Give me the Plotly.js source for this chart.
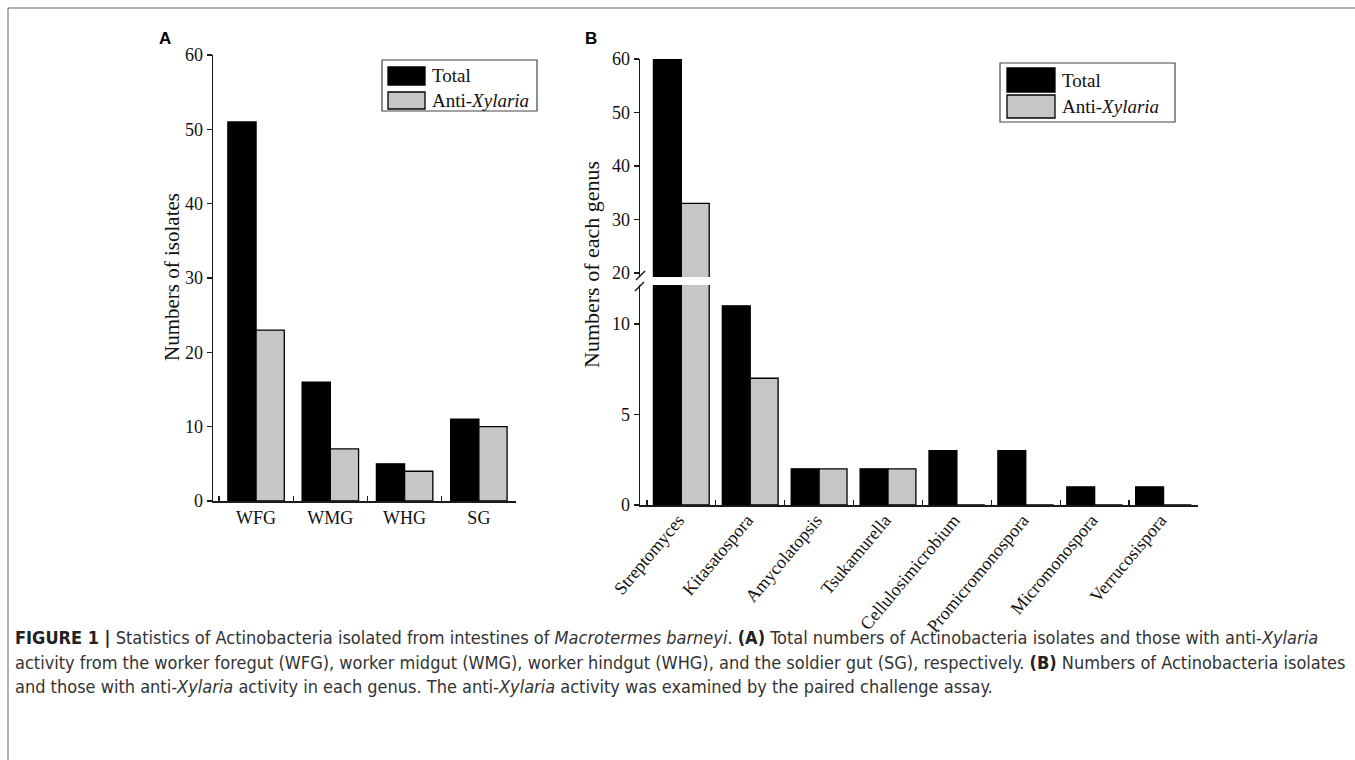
<!DOCTYPE html>
<html>
<head>
<meta charset="utf-8">
<script src="https://cdn.plot.ly/plotly-3.0.1.min.js"></script>
<style>
  html, body { margin: 0; padding: 0; background: #fff; width: 1355px; height: 760px; overflow: hidden; }
  #chart { position: absolute; left: 0; top: 0; width: 1355px; height: 760px; }
  #caption {
    position: absolute; left: 15px; top: 626px; width: 1335px;
    font-family: "Liberation Sans Narrow", "DejaVu Sans Condensed", "Liberation Sans", sans-serif;
    font-size: 18px; line-height: 24.5px; color: #333; white-space: nowrap;
  }
  #caption b { color: #222; }
</style>
</head>
<body>
<div id="chart"></div>
<div id="caption">
<b>FIGURE 1 |</b> Statistics of Actinobacteria isolated from intestines of <i>Macrotermes barneyi</i>. <b>(A)</b> Total numbers of Actinobacteria isolates and those with anti-<i>Xylaria</i><br>
activity from the worker foregut (WFG), worker midgut (WMG), worker hindgut (WHG), and the soldier gut (SG), respectively. <b>(B)</b> Numbers of Actinobacteria isolates<br>
and those with anti-<i>Xylaria</i> activity in each genus. The anti-<i>Xylaria</i> activity was examined by the paired challenge assay.
</div>
<script>
// ---- data ----
const gutCategories = ['WFG', 'WMG', 'WHG', 'SG'];
const gutTotal = [51, 16, 5, 11];
const gutAnti = [23, 7, 4, 10];

const genusCategories = ['Streptomyces', 'Kitasatospora', 'Amycolatopsis', 'Tsukamurella',
  'Cellulosimicrobium', 'Promicromonospora', 'Micromonospora', 'Verrucosispora'];
const genusTotal = [60, 11, 2, 2, 3, 3, 1, 1];
const genusAnti = [33, 7, 2, 2, 0, 0, 0, 0];

const seriesNames = ['Total', 'Anti-<i>Xylaria</i>'];
const gutTicks = [0, 10, 20, 30, 40, 50, 60];
const genusLowTicks = [0, 5, 10];
const genusHighTicks = [20, 30, 40, 50, 60];

// ---- layout helpers (pixel -> paper) ----
const W = 1355, H = 760;
const px = v => v / W;
const py = v => 1 - v / H;

const BLACK = '#000000', GRAY = '#c6c6c6', LINE = '#1a1a1a';
const serif = 'Liberation Serif, Times New Roman, serif';

const wA = 0.38, wB = 0.405;

function bars(x, y, name, color, xa, ya, w, off) {
  return {
    type: 'bar', x: x, y: y, name: name, xaxis: xa, yaxis: ya,
    width: w, offset: off, showlegend: false, hoverinfo: 'x+y',
    marker: { color: color, line: { color: BLACK, width: 1.3 } }
  };
}

const traces = [
  bars(gutCategories, gutTotal, seriesNames[0], BLACK, 'x', 'y', wA, -wA),
  bars(gutCategories, gutAnti, seriesNames[1], GRAY, 'x', 'y', wA, 0),
  bars(genusCategories, genusTotal, seriesNames[0], BLACK, 'x2', 'y2', wB, -wB),
  bars(genusCategories, genusAnti, seriesNames[1], GRAY, 'x2', 'y2', wB, 0),
  bars(genusCategories, genusTotal, seriesNames[0], BLACK, 'x3', 'y3', wB, -wB),
  bars(genusCategories, genusAnti, seriesNames[1], GRAY, 'x3', 'y3', wB, 0)
];

const tickFont = { family: serif, size: 18, color: '#111' };

const baseY = {
  showgrid: false, zeroline: false, showline: true, linecolor: LINE, linewidth: 1.5,
  ticks: 'outside', ticklen: 5, tickwidth: 1.3, tickcolor: LINE,
  tickfont: tickFont, tickmode: 'array', fixedrange: true
};
const baseX = {
  type: 'category', showgrid: false, zeroline: false, showline: true, linecolor: LINE, linewidth: 1.5,
  ticks: 'inside', ticklen: 5, tickwidth: 1.3, tickcolor: LINE, tickson: 'boundaries',
  tickfont: tickFont, fixedrange: true
};

const legendShapes = [];
const legendAnn = [];
function legend(box, sw, textX, rows, fs) {
  legendShapes.push({ type: 'rect', xref: 'paper', yref: 'paper',
    x0: px(box[0]), x1: px(box[1]), y0: py(box[2]), y1: py(box[3]),
    line: { color: '#444', width: 1.2 }, fillcolor: 'rgba(0,0,0,0)' });
  rows.forEach((r, i) => {
    legendShapes.push({ type: 'rect', xref: 'paper', yref: 'paper',
      x0: px(sw[0]), x1: px(sw[1]), y0: py(r.y0), y1: py(r.y1),
      line: { color: BLACK, width: 1.3 }, fillcolor: r.color });
    legendAnn.push({ xref: 'paper', yref: 'paper', x: px(textX), y: py((r.y0 + r.y1) / 2),
      xanchor: 'left', yanchor: 'middle', showarrow: false, text: seriesNames[i],
      font: { family: serif, size: fs, color: '#111' } });
  });
}
legend([382, 537, 60, 111], [388, 425], 430, [
  { y0: 67, y1: 85, color: BLACK }, { y0: 92, y1: 109, color: GRAY }], 19);
legend([1000, 1175, 63, 122], [1007, 1055], 1060, [
  { y0: 68, y1: 92, color: BLACK }, { y0: 95, y1: 118, color: GRAY }], 19);

function label(x, y, text, font, angle) {
  return { xref: 'paper', yref: 'paper', x: px(x), y: py(y), text: text, showarrow: false,
    xanchor: 'center', yanchor: 'middle', textangle: angle || 0, font: font };
}

const layout = {
  width: W, height: H, margin: { l: 0, r: 0, t: 0, b: 0 },
  paper_bgcolor: '#ffffff', plot_bgcolor: 'rgba(0,0,0,0)',
  barmode: 'overlay', showlegend: false,
  font: { family: serif, color: '#111' },
  xaxis: Object.assign({}, baseX, { domain: [px(213), px(516)], range: [-0.58, 3.5], anchor: 'y' }),
  yaxis: Object.assign({}, baseY, { domain: [py(501), py(55)], range: [0, 60], tickvals: gutTicks, anchor: 'x' }),
  xaxis2: Object.assign({}, baseX, { domain: [px(640), px(1198)], range: [-0.6, 7.5], anchor: 'y2',
    tickangle: -50, ticklabelshift: -3, ticklabelstandoff: -4 }),
  yaxis2: Object.assign({}, baseY, { domain: [py(505), py(285)], range: [0, 12.15], tickvals: genusLowTicks, anchor: 'x2' }),
  xaxis3: Object.assign({}, baseX, { domain: [px(640), px(1198)], range: [-0.6, 7.5], anchor: 'y3',
    visible: false }),
  yaxis3: Object.assign({}, baseY, { domain: [py(277), py(59)], range: [19.25, 60], tickvals: genusHighTicks, anchor: 'x3' }),
  shapes: [
    // figure frame
    { type: 'line', xref: 'paper', yref: 'paper', x0: px(8), x1: 1, y0: py(8), y1: py(8), line: { color: '#666', width: 1 } },
    { type: 'line', xref: 'paper', yref: 'paper', x0: px(8), x1: px(8), y0: py(8), y1: 0, line: { color: '#666', width: 1 } },
    // axis break marks
    { type: 'line', xref: 'paper', yref: 'paper', x0: px(636), x1: px(645), y0: py(280), y1: py(271), line: { color: LINE, width: 1.4 } },
    { type: 'line', xref: 'paper', yref: 'paper', x0: px(635), x1: px(644), y0: py(291), y1: py(282), line: { color: LINE, width: 1.4 } }
  ].concat(legendShapes),
  annotations: [
    label(165, 39, '<b>A</b>', { family: 'Liberation Sans, Arial, sans-serif', size: 17, color: '#000' }),
    label(591, 39, '<b>B</b>', { family: 'Liberation Sans, Arial, sans-serif', size: 17, color: '#000' }),
    label(172, 277, 'Numbers of isolates', { family: serif, size: 21, color: '#111' }, -90),
    label(592, 265, 'Numbers of each genus', { family: serif, size: 22, color: '#111' }, -90)
  ].concat(legendAnn)
};

Plotly.newPlot('chart', traces, layout, { staticPlot: true, displayModeBar: false });
</script>
</body>
</html>
